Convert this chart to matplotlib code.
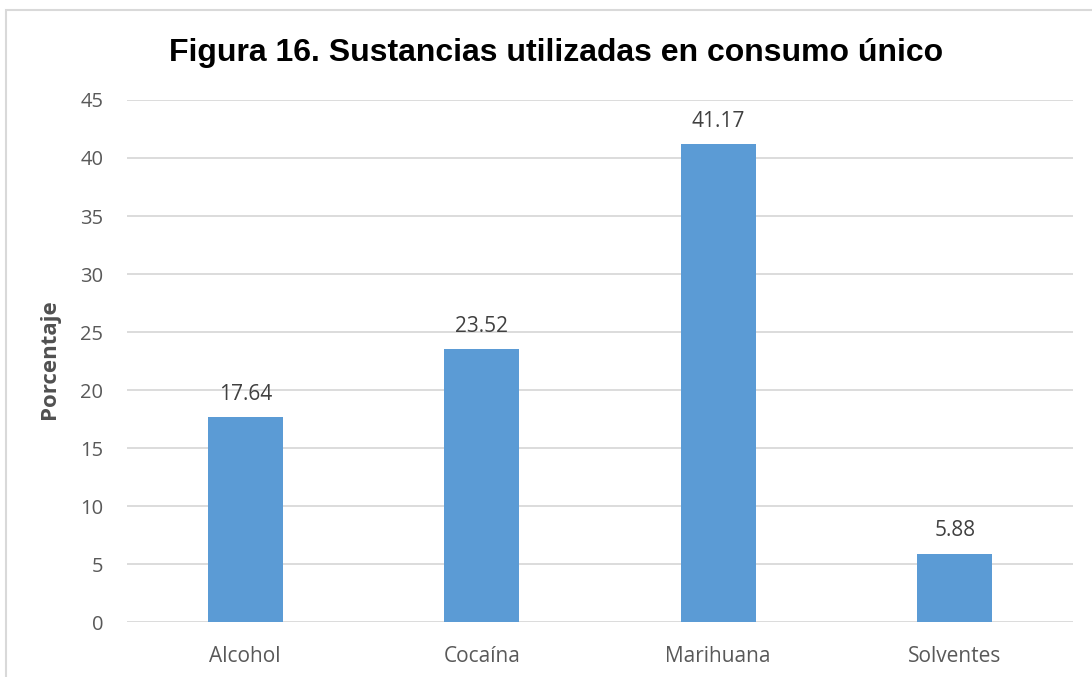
import matplotlib.pyplot as plt
from matplotlib.patches import Rectangle

categorias = ["Alcohol", "Cocaína", "Marihuana", "Solventes"]
porcentajes = [17.64, 23.52, 41.17, 5.88]
etiquetas = ["17.64", "23.52", "41.17", "5.88"]
ticks_y = [0, 5, 10, 15, 20, 25, 30, 35, 40, 45]

plt.rcParams['font.family'] = ['Open Sans', 'DejaVu Sans']

fig = plt.figure(figsize=(10.92, 6.77), dpi=100)
ax = fig.add_axes([0.1163, 0.0812, 0.8663, 0.7711])

# marco del gráfico
fig.patches.append(Rectangle((6 / 1092, -0.1), 1.2, 1 - 9.5 / 677 + 0.1,
                             transform=fig.transFigure, fill=False,
                             edgecolor="#D9D9D9", linewidth=1.5))

x = range(len(categorias))
ax.bar(x, porcentajes, width=0.317, color="#5B9BD5", zorder=3)
for xi, v, lab in zip(x, porcentajes, etiquetas):
    ax.annotate(lab, (xi, v), xytext=(0, 9), textcoords="offset points",
                ha="center", va="bottom", fontsize=15, color="#404040")

ax.set_xlim(-0.5, len(categorias) - 0.5)
ax.set_ylim(0, 45)
ax.set_yticks(ticks_y)
ax.set_xticks(list(x))
ax.set_xticklabels(categorias, fontsize=15)
ax.tick_params(axis="both", length=0, labelcolor="#595959")
ax.tick_params(axis="y", pad=17, labelsize=14.5)
ax.tick_params(axis="x", pad=17)
ax.grid(axis="y", color="#D9D9D9", linewidth=1.3, zorder=0)
for s in ax.spines.values():
    s.set_visible(False)

ax.set_ylabel("Porcentaje", fontsize=16, fontweight="bold", color="#505050")
ax.yaxis.set_label_coords(60 / 1092, 1 - 359 / 677, transform=fig.transFigure)
fig.text(0.509, 0.922, "Figura 16. Sustancias utilizadas en consumo único",
         ha="center", va="center", fontsize=23, fontweight="bold",
         family="Liberation Sans", color="black")

fig.savefig("out.png", dpi=100)
